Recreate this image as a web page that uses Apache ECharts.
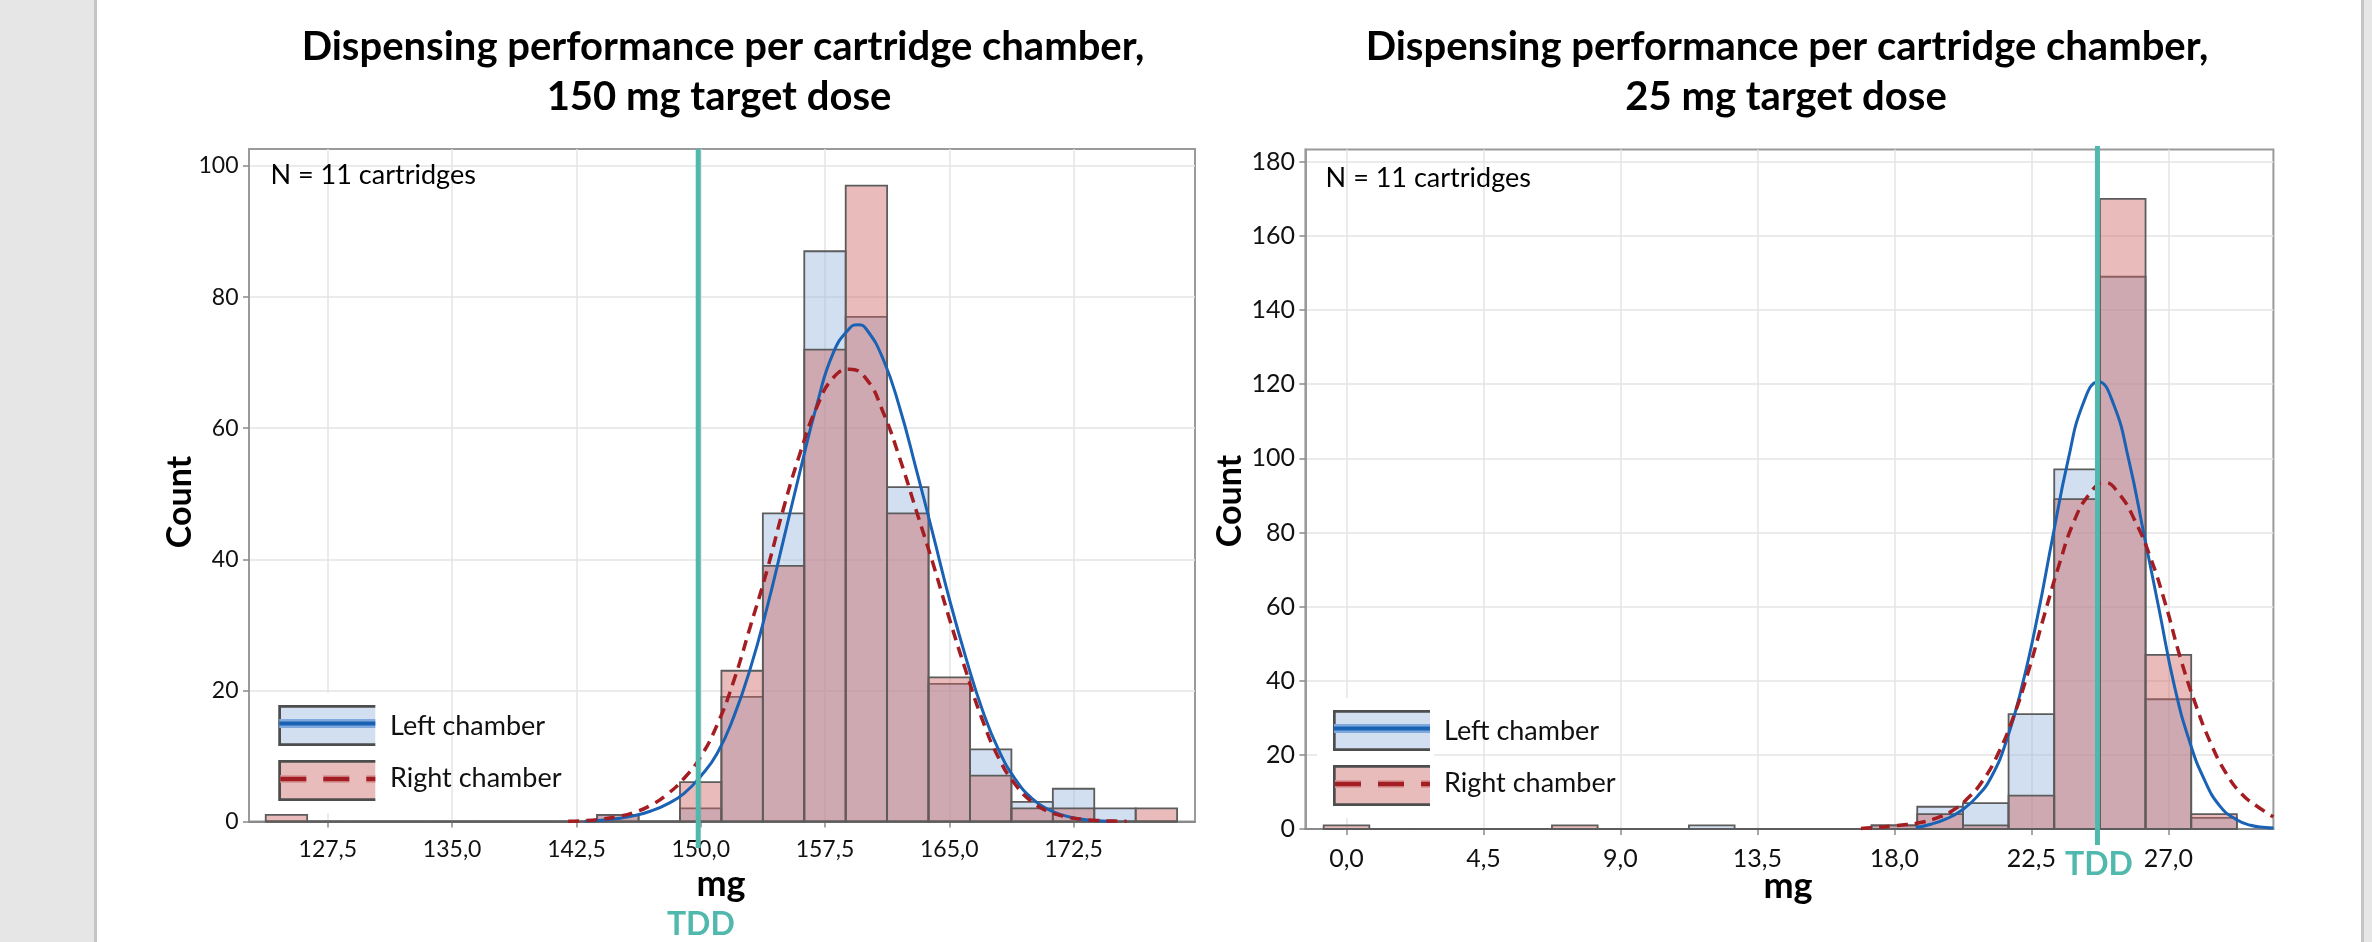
<!DOCTYPE html>
<html><head><meta charset="utf-8">
<script src="https://cdn.jsdelivr.net/npm/echarts@6/dist/echarts.min.js"></script>
<style>
html,body{margin:0;padding:0;background:#fff;width:2372px;height:942px;overflow:hidden}
#bandL{position:absolute;left:0;top:0;width:94px;height:942px;background:#e6e6e6;border-right:3px solid #c5c5c5}
#bandR{position:absolute;left:2361px;top:0;width:8px;height:942px;background:#e6e6e6;border-left:3px solid #c5c5c5}
#chart{position:absolute;left:0;top:0;width:2372px;height:942px}
</style></head><body>
<div id="bandL"></div><div id="bandR"></div><div id="chart"></div>
<script>
// ---------------- data ----------------
const title150 = ['Dispensing performance per cartridge chamber,', '150 mg target dose'];
const title25 = ['Dispensing performance per cartridge chamber,', '25 mg target dose'];
const nLabel = 'N = 11 cartridges';
const seriesNames = ['Left chamber', 'Right chamber'];
const xName = 'mg';
const yName = 'Count';
const tddName = 'TDD';

// 150 mg chart
const binWidth150 = 2.5;
const bins150 = [125,127.5,130,132.5,135,137.5,140,142.5,145,147.5,150,152.5,155,157.5,160,162.5,165,167.5,170,172.5,175,177.5];
const left150 = [0,0,0,0,0,0,0,0,1,0,2,19,47,87,77,51,21,11,3,5,2,0];
const right150 = [1,0,0,0,0,0,0,0,1,0,6,23,39,72,97,47,22,7,2,2,0,2];
const xRange150 = [122.74, 179.83];
const yRange150 = [0, 102.6];
const xTicks150 = [127.5,135,142.5,150,157.5,165,172.5];
const yTicks150 = [0,20,40,60,80,100];
const tdd150 = 149.85;
const fitLeft150 = [[143,0.05],[144,0.2],[145,0.45],[146,0.9],[147,1.6],[148,2.7],[149,4.3],[150,6.9],[151,10.4],[152,16.0],[153,23.4],[154,32.6],[155,43.0],[156,53.5],[157,63.5],[158,71.5],[159,75.3],[159.5,75.8],[160,75.1],[161,70.6],[162,63.2],[163,53.8],[164,44.0],[165,34.0],[166,25.0],[167,17.0],[168,10.8],[169,6.4],[170,3.5],[171,1.8],[172,0.85],[173,0.35],[174,0.12],[175,0.04]];
const fitRight150 = [[142,0.03],[143,0.12],[144,0.35],[145,0.75],[146,1.4],[147,2.5],[148,4.2],[149,6.6],[150,9.9],[151,14.8],[152,21.5],[153,29.8],[154,38.3],[155,47.8],[156,56.2],[157,63.2],[158,67.7],[159,69.0],[160,67.5],[161,62.5],[162,55.5],[163,47.5],[164,39.5],[165,31.0],[166,23.0],[167,15.5],[168,9.6],[169,5.6],[170,3.0],[171,1.5],[172,0.75],[173,0.35],[174,0.15],[175,0.06],[175.7,0.03]];

// 25 mg chart
const binWidth25 = 1.5;
const bins25 = [0,1.5,3,4.5,6,7.5,9,10.5,12,13.5,15,16.5,18,19.5,21,22.5,24,25.5,27,28.5];
const left25 = [0,0,0,0,0,0,0,0,1,0,0,0,1,6,7,31,97,149,35,3];
const right25 = [1,0,0,0,0,1,0,0,0,0,0,0,1,4,1,9,89,170,47,4];
const xRange25 = [-1.35, 30.45];
const yRange25 = [0, 183.3];
const xTicks25 = [0,4.5,9,13.5,18,22.5,27];
const yTicks25 = [0,20,40,60,80,100,120,140,160,180];
const tdd25 = 24.67;
const fitLeft25 = [[18.7,0.4],[19.2,1.3],[19.7,2.7],[20.2,5.0],[20.7,8.6],[21.2,14.3],[21.7,24.3],[22.2,38.8],[22.7,57.3],[23.2,78.8],[23.7,99.3],[24.2,114.8],[24.7,120.7],[25.2,114.6],[25.7,99.5],[26.2,79.4],[26.7,59.0],[27.2,38.5],[27.7,23.5],[28.2,13.0],[28.7,6.1],[29.2,2.7],[29.7,1.0],[30.2,0.4],[30.45,0.25]];
const fitRight25 = [[16.9,0.15],[17.4,0.4],[17.9,0.8],[18.4,1.2],[18.9,1.8],[19.4,3.0],[19.9,4.9],[20.4,8.2],[20.9,13.0],[21.4,20.2],[21.9,30.0],[22.4,42.5],[22.9,57.0],[23.4,71.0],[23.9,83.0],[24.4,90.3],[24.9,93.5],[25.4,90.2],[25.9,83.2],[26.4,73.5],[26.9,60.8],[27.4,46.0],[27.9,33.5],[28.4,23.0],[28.9,15.0],[29.4,9.5],[29.9,6.2],[30.45,3.3]];

// ---------------- styles ----------------
const FONT = 'Lato, "Open Sans", sans-serif';
const BLUE_FILL = 'rgba(153,182,221,0.44)';
const PINK_FILL = 'rgba(205,100,100,0.44)';
const BAR_STROKE = '#5c5c5c';
const BLUE_LINE = '#1a62b4';
const RED_LINE = '#a31d22';
const TEAL = '#50b8ac';

function histRender(binW) {
  return function (params, api) {
    const c = api.value(0), n = api.value(1);
    const a = api.coord([c - binW / 2, n]);
    const b = api.coord([c + binW / 2, 0]);
    const st = api.style();
    if (!n) {
      return { type: 'line', shape: { x1: a[0], y1: b[1], x2: b[0], y2: b[1] },
        style: { stroke: BAR_STROKE, lineWidth: 2.2 } };
    }
    return { type: 'rect',
      shape: { x: a[0], y: a[1], width: b[0] - a[0], height: b[1] - a[1] },
      style: { fill: st.fill, stroke: BAR_STROKE, lineWidth: 1.8 } };
  };
}
function tddRender(below, above, dx, dy) {
  return function (params, api) {
    const v = api.value(0);
    const p0 = api.coord([v, 0]);
    const top = params.coordSys.y - above;
    return { type: 'group', children: [
      { type: 'line', shape: { x1: p0[0], y1: top, x2: p0[0], y2: p0[1] + below },
        style: { stroke: TEAL, lineWidth: 5 } },
      { type: 'text', x: p0[0] + dx, y: p0[1] + dy,
        style: { text: tddName, fill: TEAL, fontSize: 32, fontWeight: 'bold', fontFamily: FONT,
          align: 'center', verticalAlign: 'middle' } }
    ]};
  };
}
const pairs = (xs, ys) => xs.map((x, i) => [x, ys[i]]);
const comma = v => Number(v).toFixed(1).replace('.', ',');

function xAxisCfg(gi, range, ticks, fs, margin) {
  return { type: 'value', gridIndex: gi, min: range[0], max: range[1],
    axisLine: { show: true, onZero: false, lineStyle: { color: '#8a8a8a', width: 2 } },
    axisTick: { show: true, length: 6, customValues: ticks, lineStyle: { color: '#8a8a8a', width: 1.5 } },
    axisLabel: { show: true, customValues: ticks, formatter: comma, margin: margin,
      fontSize: fs, fontFamily: FONT, color: '#111' },
    splitLine: { show: true, lineStyle: { color: '#e4e4e4', width: 1.5 } } };
}
function yAxisCfg(gi, range, ticks, fs) {
  return { type: 'value', gridIndex: gi, min: range[0], max: range[1],
    axisLine: { show: true, onZero: false, lineStyle: { color: '#9a9a9a', width: 2 } },
    axisTick: { show: true, length: 6, customValues: ticks, lineStyle: { color: '#8a8a8a', width: 1.5 } },
    axisLabel: { show: true, customValues: ticks, margin: 10.5, fontSize: fs, fontFamily: FONT, color: '#111',
      formatter: v => String(Math.round(v)) },
    splitLine: { show: true, lineStyle: { color: '#e4e4e4', width: 1.5 } } };
}
function chartSeries(ai, bins, lv, rv, bw, fitL, fitR, tdd, tddCfg) {
  return [
    { type: 'custom', name: seriesNames[0], xAxisIndex: ai, yAxisIndex: ai, data: pairs(bins, lv),
      renderItem: histRender(bw), itemStyle: { color: BLUE_FILL }, z: 2, silent: true },
    { type: 'custom', name: seriesNames[1], xAxisIndex: ai, yAxisIndex: ai, data: pairs(bins, rv),
      renderItem: histRender(bw), itemStyle: { color: PINK_FILL }, z: 3, silent: true },
    { type: 'line', name: seriesNames[0] + ' fit', xAxisIndex: ai, yAxisIndex: ai, data: fitL,
      smooth: 0.5, symbol: 'none', lineStyle: { color: BLUE_LINE, width: 3 }, z: 5, silent: true },
    { type: 'line', name: seriesNames[1] + ' fit', xAxisIndex: ai, yAxisIndex: ai, data: fitR,
      smooth: 0.5, symbol: 'none', lineStyle: { color: RED_LINE, width: 3.5, type: [11, 7] }, z: 5, silent: true },
    { type: 'custom', name: tddName, xAxisIndex: ai, yAxisIndex: ai, data: [[tdd, 0]], clip: false,
      renderItem: tddRender.apply(null, tddCfg), z: 10, silent: true }
  ];
}
function legendGfx(x, yTop, textX) {
  const w = 97, h = 41, gap = 14;
  const y2 = yTop + h + gap;
  const b = 2.7;
  const box = (yy, fill) => [
    { type: 'rect', shape: { x: x, y: yy, width: w, height: h }, style: { fill: fill }, z: 20 },
    { type: 'polyline', shape: { points: [[x + w, yy + b / 2], [x + b / 2, yy + b / 2], [x + b / 2, yy + h - b / 2], [x + w, yy + h - b / 2]] },
      style: { stroke: '#4d4d4d', lineWidth: b, fill: null }, z: 21 }
  ];
  return [
    { type: 'rect', shape: { x: x - 16, y: yTop - 12, width: w + 20, height: 2 * h + gap + 24 }, style: { fill: '#fff' }, z: 1 },
    ...box(yTop, '#d2dff0'),
    { type: 'line', shape: { x1: x + 1, y1: yTop + 18.5, x2: x + w, y2: yTop + 18.5 }, style: { stroke: '#7fa8dc', lineWidth: 9 }, z: 22 },
    { type: 'line', shape: { x1: x + 1, y1: yTop + 18.5, x2: x + w, y2: yTop + 18.5 }, style: { stroke: BLUE_LINE, lineWidth: 4 }, z: 23 },
    ...box(y2, '#e9bcbc'),
    { type: 'line', shape: { x1: x + 2, y1: y2 + 19, x2: x + w, y2: y2 + 19 }, style: { stroke: '#d99a9a', lineWidth: 8, lineDash: [26, 17] }, z: 22 },
    { type: 'line', shape: { x1: x + 2, y1: y2 + 19, x2: x + w, y2: y2 + 19 }, style: { stroke: RED_LINE, lineWidth: 4.5, lineDash: [26, 17] }, z: 23 },
    { type: 'text', x: textX, y: yTop + 21, style: { text: seriesNames[0], fontSize: 27, fontFamily: FONT, fill: '#111', align: 'left', verticalAlign: 'middle' }, z: 24 },
    { type: 'text', x: textX, y: y2 + 18, style: { text: seriesNames[1], fontSize: 27, fontFamily: FONT, fill: '#111', align: 'left', verticalAlign: 'middle' }, z: 24 }
  ];
}
const txt = (x, y, text, fs, bold, extra) => Object.assign({ type: 'text', x: x, y: y, z: 30,
  style: { text: text, fontSize: fs, fontWeight: bold ? 'bold' : 'normal', fontFamily: FONT, fill: '#000',
    align: 'center', verticalAlign: 'middle' } }, extra || {});
const leftTxt = (x, y, text, fs) => ({ type: 'text', x: x, y: y, z: 30,
  style: { text: text, fontSize: fs, fontFamily: FONT, fill: '#000', align: 'left', verticalAlign: 'middle' } });

const chart = echarts.init(document.getElementById('chart'), null, { renderer: 'canvas' });
chart.setOption({
  animation: false,
  backgroundColor: 'transparent',
  grid: [
    { left: 249, top: 149, width: 946, height: 672.5, show: true, borderColor: '#9a9a9a', borderWidth: 2, containLabel: false, outerBoundsMode: 'none' },
    { left: 1305.4, top: 149.6, width: 968, height: 679.4, show: true, borderColor: '#9a9a9a', borderWidth: 2, containLabel: false, outerBoundsMode: 'none' }
  ],
  xAxis: [ xAxisCfg(0, xRange150, xTicks150, 23, 17), xAxisCfg(1, xRange25, xTicks25, 25, 17.5) ],
  yAxis: [ yAxisCfg(0, yRange150, yTicks150, 23), yAxisCfg(1, yRange25, yTicks25, 25) ],
  series: [
    ...chartSeries(0, bins150, left150, right150, binWidth150, fitLeft150, fitRight150, tdd150, [26.5, 0, 2.6, 103.5]),
    ...chartSeries(1, bins25, left25, right25, binWidth25, fitLeft25, fitRight25, tdd25, [16, 3.6, 1.5, 36])
  ],
  graphic: { elements: [
    txt(723, 47, title150[0], 40, true), txt(719, 97, title150[1], 40, true),
    txt(1787, 47, title25[0], 40, true), txt(1786, 97, title25[1], 40, true),
    leftTxt(270.5, 175, nLabel, 27),
    leftTxt(1325.6, 178, nLabel, 27),
    txt(180, 502, yName, 34, true, { rotation: Math.PI / 2 }),
    txt(1230, 501, yName, 34, true, { rotation: Math.PI / 2 }),
    txt(721, 884, xName, 36, true), txt(1788, 886, xName, 36, true),
    ...legendGfx(278.3, 705, 390),
    ...legendGfx(1333, 710, 1444)
  ]}
});
</script>
</body></html>
